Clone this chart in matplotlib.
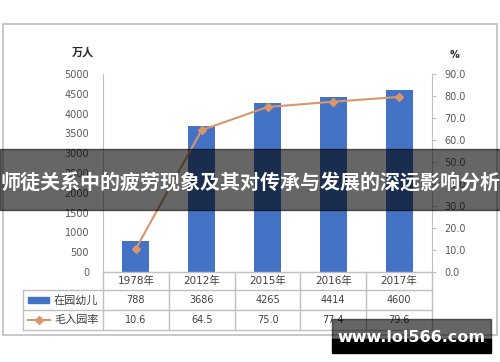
import matplotlib.pyplot as plt
import matplotlib.transforms as mtransforms
from matplotlib.patches import Rectangle
import numpy as np

plt.rcParams['font.family'] = ['DejaVu Sans', 'Noto Sans CJK SC']

years = ['1978年', '2012年', '2015年', '2016年', '2017年']
children = [788, 3686, 4265, 4414, 4600]
rate = [10.6, 64.5, 75.0, 77.4, 79.6]
series_names = ['在园幼儿', '毛入园率']
left_ticks = np.arange(0, 5001, 500)
right_ticks = np.arange(0, 91, 10)
title = '师徒关系中的疲劳现象及其对传承与发展的深远影响分析'
watermark = 'www.lol566.com'

bar_color = '#4472C4'
line_color = '#D8966A'
grid_color = '#BFBFBF'
text_color = '#404040'
cjk = ['Noto Sans CJK SC', 'DejaVu Sans']

W, H = 500, 362
fig = plt.figure(figsize=(5, 3.62), dpi=100)

def fx(px):
    return px / W

def fy(py):
    return 1 - py / H

# outer frame
fig.patches.append(Rectangle((fx(3), fy(335)), fx(494), (335 - 24) / H, transform=fig.transFigure,
                             fill=False, edgecolor=grid_color, lw=1.2))

ax = fig.add_axes([fx(103), fy(272), fx(432 - 103), (272 - 74) / H])
x = np.arange(len(years))
ax.bar(x, children, width=0.41, color=bar_color, zorder=2)
ax.set_xlim(-0.5, len(years) - 0.5)
ax.set_ylim(0, 5000)
ax.set_yticks(left_ticks)
ax.tick_params(axis='y', length=0, pad=10, labelsize=7, labelcolor='#595959')
ax.set_xticks([])
for s in ['top', 'right', 'bottom']:
    ax.spines[s].set_visible(False)
ax.spines['left'].set_color(grid_color)

ax2 = ax.twinx()
ax2.plot(x, rate, color=line_color, lw=1.5, marker='D', markersize=4.5, zorder=3)
ax2.set_ylim(0, 90)
ax2.set_yticks(right_ticks)
ax2.set_yticklabels(['%.1f' % v for v in right_ticks])
ax2.tick_params(axis='y', length=3, color=grid_color, pad=6, labelsize=7, labelcolor='#595959')
for s in ['top', 'left', 'bottom']:
    ax2.spines[s].set_visible(False)
ax2.spines['right'].set_color(grid_color)
ax2.set_xlim(-0.5, len(years) - 0.5)

fig.text(fx(83), fy(52), '万人', ha='center', va='center', fontsize=8, fontweight='bold', family=cjk, color='#262626')
fig.text(fx(455), fy(55), '%', ha='center', va='center', fontsize=7, fontweight='bold', color='#262626')

# data table under the axis
tr = mtransforms.blended_transform_factory(ax.transData, ax.transAxes)
ah = 272 - 74
r0, r1, r2, r3 = 0, -(290 - 272) / ah, -(310 - 272) / ah, -(330 - 272) / ah
xl = -0.5 - 80 / (329 / 5)
n = len(years)
kw = dict(color=grid_color, lw=1, transform=tr, clip_on=False)
ax.plot([-0.5, n - 0.5], [r0, r0], **kw)
for yy in (r1, r2, r3):
    ax.plot([xl, n - 0.5], [yy, yy], **kw)
for i in range(n + 1):
    ax.plot([i - 0.5, i - 0.5], [r0, r3], **kw)
ax.plot([xl, xl], [r1, r3], **kw)
ax.set_xlim(-0.5, n - 0.5)

for i in range(n):
    ax.text(i, (r0 + r1) / 2, years[i], transform=tr, ha='center', va='center', fontsize=7.5,
            family=['DejaVu Sans', 'Noto Sans CJK SC'], color=text_color)
    ax.text(i, (r1 + r2) / 2, str(children[i]), transform=tr, ha='center', va='center', fontsize=7, color=text_color)
    ax.text(i, (r2 + r3) / 2, '%.1f' % rate[i], transform=tr, ha='center', va='center', fontsize=7, color=text_color)

# legend keys in the table
fig.patches.append(Rectangle((fx(28), fy(303)), fx(21), 6 / H, transform=fig.transFigure,
                             color=bar_color))
fig.lines.append(plt.Line2D([fx(28), fx(50)], [fy(320), fy(320)], transform=fig.transFigure,
                            color=line_color, lw=1.5))
fig.lines.append(plt.Line2D([fx(39)], [fy(320)], transform=fig.transFigure, color=line_color,
                            marker='D', markersize=4.5))
fig.text(fx(54), fy(300), series_names[0], ha='left', va='center', fontsize=8, family=cjk, color=text_color)
fig.text(fx(54), fy(320), series_names[1], ha='left', va='center', fontsize=8, family=cjk, color=text_color)

# overlay title band
fig.patches.append(Rectangle((0, fy(210)), 1, (210 - 149) / H, transform=fig.transFigure,
                             color='black', alpha=0.6, zorder=10))
fig.text(0.5, fy(182), title, ha='center', va='center', fontsize=14.4, fontweight='bold',
         family=cjk, color='white', zorder=11)

# watermark
fig.patches.append(Rectangle((fx(332), fy(339)), fx(159), 20 / H, transform=fig.transFigure,
                             color='black', alpha=0.6, zorder=10))
fig.patches.append(Rectangle((fx(332), fy(353)), fx(159), 14 / H, transform=fig.transFigure,
                             color='black', zorder=10))
fig.text(fx(411), fy(337), watermark, ha='center', va='center', fontsize=11.5, fontweight='bold',
         color='white', zorder=11)

fig.savefig('out.png', dpi=100)
